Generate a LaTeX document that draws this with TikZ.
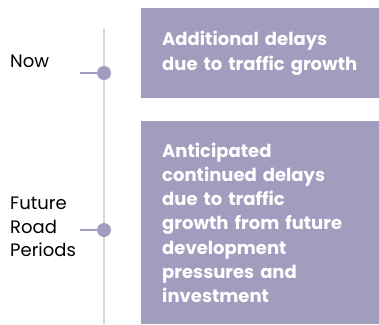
\documentclass[tikz,border=0pt]{standalone}
\usepackage{fontspec}
\setmainfont{Poppins}[Ligatures=CommonOff]
\usetikzlibrary{positioning}

\definecolor{delaybox}{HTML}{A09DBE}
\definecolor{timeline}{HTML}{D6D6D6}

\begin{document}
\begin{tikzpicture}[x=1pt, y=-1pt,
  delay/.style={fill=delaybox, text=white, anchor=north west, align=left,
    minimum width=238pt, text width=200pt, inner xsep=21pt, inner ysep=0pt,
    font=\fontsize{18}{24.2}\selectfont\bfseries},
  period/.style={anchor=west, align=left, inner sep=0pt,
    font=\fontsize{18}{23.5}\selectfont},
  stamp/.style={circle, fill=delaybox, minimum size=14pt, inner sep=0pt},
]
  \useasboundingbox (0,0) rectangle (379,324);
  % timeline
  \coordinate (top) at (104,29);
  \coordinate (bot) at (104,324);
  \draw[timeline, line width=2.2pt] (top) -- (bot);
  % time points on the line
  \node[stamp] (now) at (104,73) {};
  \node[stamp] (future) at (104,230) {};
  \coordinate (nowtick) at (80,73);
  \coordinate (futuretick) at (80,230);
  \draw[delaybox, line width=2pt] (nowtick) -- (now);
  \draw[delaybox, line width=2pt] (futuretick) -- (future);
  % labels
  \node[period] (nowlbl) at (10,61) {Now};
  \node[period] (futurelbl) at (10,227) {Future\\Road\\Periods};
  % delay boxes
  \node[delay, minimum height=90pt] (boxnow) at (141,8)
    {Additional delays\\due to traffic growth};
  \node[delay, minimum height=203pt] (boxfuture) at (141,121)
    {Anticipated\\continued delays\\due to traffic\\growth from future\\development\\pressures and\\investment};
\end{tikzpicture}
\end{document}
